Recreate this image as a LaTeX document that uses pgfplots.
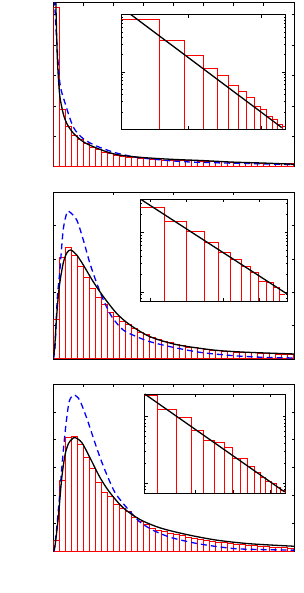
\documentclass[border=0pt]{standalone}
\usepackage{pgfplots}
\pgfplotsset{compat=1.18}
\definecolor{hred}{RGB}{255,0,0}
\pgfplotsset{
 mainax/.style={scale only axis, width=241.4pt, anchor=south west, xmin=0, xmax=8.047, ymin=0,
   axis line style={line width=0.9pt}, tick style={black, line width=0.6pt}, major tick length=3pt,
   xticklabels={}, yticklabels={}, tick label style={text opacity=0, opacity=0}},
 inax/.style={scale only axis, anchor=south west, log origin y=infty,
   axis background/.style={fill=white}, axis line style={line width=0.9pt},
   tick style={black, line width=0.5pt}, major tick length=3pt, minor tick length=1.5pt,
   xticklabels={}, yticklabels={}, tick label style={text opacity=0, opacity=0}},
 histbar/.style={draw=hred, fill=none, line width=1pt, ybar, bar width=0.2, bar shift=0pt},
 steptop/.style={hred, line width=1pt, const plot mark left},
 stepedge/.style={hred, line width=1pt, ycomb},
 fitline/.style={black, line width=1.3pt, smooth, tension=0.5},
 blueline/.style={blue, line width=1.3pt, dash pattern=on 6pt off 4pt, smooth, tension=0.5},
}
\begin{document}
\begin{tikzpicture}[x=1pt,y=1pt]
\useasboundingbox (0,0) rectangle (304,593);
% ---------------- Panel 1 ----------------
\begin{axis}[mainax, at={(53.3pt,426.3pt)}, height=164pt, ymax=5.395, xtick={1,2,3,4,5,6,7}, ytick={1,2,3,4,5}]
\addplot[histbar] coordinates {
(0.1,5.24)(0.3,1.88)(0.5,1.32)(0.7,1.04)(0.9,0.90)(1.1,0.75)(1.3,0.62)(1.5,0.55)(1.7,0.47)(1.9,0.42)
(2.1,0.37)(2.3,0.34)(2.5,0.31)(2.7,0.29)(2.9,0.27)(3.1,0.26)(3.3,0.24)(3.5,0.23)(3.7,0.22)(3.9,0.21)
(4.1,0.21)(4.3,0.20)(4.5,0.20)(4.7,0.19)(4.9,0.18)(5.1,0.18)(5.3,0.17)(5.5,0.16)(5.7,0.16)(5.9,0.15)
(6.1,0.15)(6.3,0.14)(6.5,0.14)(6.7,0.13)(6.9,0.12)(7.1,0.12)(7.3,0.11)(7.5,0.10)(7.7,0.10)(7.9,0.09)};
\addplot[blueline] coordinates {
(0.04,5.5)(0.11,4.2)(0.22,2.75)(0.39,2.1)(0.67,1.3)(1.0,0.92)(1.44,0.68)(2.0,0.48)(2.5,0.36)(3.0,0.28)(4.45,0.16)(6.67,0.10)(8.05,0.07)};
\addplot[fitline] coordinates {
(0.08,5.6)(0.1,4.8)(0.13,3.7)(0.167,2.96)(0.22,2.3)(0.33,1.75)(0.45,1.42)(0.67,1.1)(1.0,0.82)(1.33,0.66)(1.78,0.49)(2.22,0.38)(3.0,0.30)(4.0,0.24)(5.0,0.20)(6.0,0.15)(7.0,0.12)(8.05,0.08)};
\end{axis}
\begin{axis}[xmode=log, ymode=log, inax, at={(121.7pt,464pt)}, width=163.3pt, height=114.3pt, xmin=1.10, xmax=14.68, ymin=1e-4, ymax=1e-2]
\addplot[steptop] coordinates {
(1,8.08e-3)(2,3.51e-3)(3,1.90e-3)(4,1.14e-3)(5,8.48e-4)(6,5.83e-4)(7,4.58e-4)(8,3.60e-4)(9,2.46e-4)(10,2.22e-4)(11,1.65e-4)(12,1.44e-4)(13,1.19e-4)(14,1.10e-4)(15,1.10e-4)};
\addplot[stepedge] coordinates {
(2,8.08e-3)(3,3.51e-3)(4,1.90e-3)(5,1.14e-3)(6,8.48e-4)(7,5.83e-4)(8,4.58e-4)(9,3.60e-4)(10,2.46e-4)(11,2.22e-4)(12,1.65e-4)(13,1.44e-4)(14,1.19e-4)};
\addplot[black, line width=1.3pt] coordinates {(1.256,1.03e-2)(13.93,1.06e-4)};
\end{axis}
% ---------------- Panel 2 ----------------
\begin{axis}[mainax, at={(53.3pt,234pt)}, height=166.7pt, ymax=5.0, xtick={2,4,6}, ytick={1,2,3,4}]
\addplot[histbar] coordinates {
(0.1,1.17)(0.3,3.05)(0.5,3.35)(0.7,3.09)(0.9,2.77)(1.1,2.45)(1.3,2.10)(1.5,1.85)(1.7,1.62)(1.9,1.40)
(2.1,1.27)(2.3,1.12)(2.5,1.02)(2.7,0.90)(2.9,0.80)(3.1,0.72)(3.3,0.64)(3.5,0.58)(3.7,0.53)(3.9,0.48)
(4.1,0.44)(4.3,0.40)(4.5,0.35)(4.7,0.33)(4.9,0.30)(5.1,0.28)(5.3,0.26)(5.5,0.24)(5.7,0.22)(5.9,0.21)
(6.1,0.20)(6.3,0.19)(6.5,0.18)(6.7,0.19)(6.9,0.16)(7.1,0.15)(7.3,0.15)(7.5,0.14)(7.7,0.14)(7.9,0.14)};
\addplot[blueline] coordinates {
(0,0)(0.06,0.4)(0.13,1.77)(0.22,2.67)(0.33,3.87)(0.45,4.38)(0.53,4.42)(0.78,4.17)(1.0,3.57)(1.22,2.87)(1.45,2.27)(1.67,1.77)(1.95,1.27)(2.33,0.87)(2.78,0.67)(3.22,0.52)(3.89,0.37)(4.89,0.20)(6.0,0.10)(7.0,0.05)(8.05,0.03)};
\addplot[fitline] coordinates {
(0,0)(0.05,0.4)(0.11,1.27)(0.2,2.17)(0.33,2.87)(0.45,3.18)(0.58,3.27)(0.78,3.12)(1.0,2.82)(1.33,2.32)(1.67,1.87)(2.11,1.37)(2.56,1.02)(3.22,0.67)(4.06,0.44)(4.89,0.32)(5.56,0.25)(6.5,0.2)(8.05,0.15)};
\end{axis}
\begin{axis}[xmode=log, ymode=log, inax, at={(140.7pt,291.7pt)}, width=147pt, height=102pt, xmin=2.22, xmax=14.41, ymin=7.0e-5, ymax=3.51e-3]
\addplot[steptop] coordinates {
(2,2.61e-3)(3,1.51e-3)(4,1.03e-3)(5,6.81e-4)(6,4.47e-4)(7,3.45e-4)(8,2.71e-4)(9,2.10e-4)(10,1.51e-4)(11,1.43e-4)(12,1.21e-4)(13,9.16e-5)(14,9.16e-5)};
\addplot[stepedge] coordinates {
(3,2.61e-3)(4,1.51e-3)(5,1.03e-3)(6,6.81e-4)(7,4.47e-4)(8,3.45e-4)(9,2.71e-4)(10,2.10e-4)(11,1.51e-4)(12,1.43e-4)(13,1.21e-4)};
\addplot[black, line width=1.3pt] coordinates {(2.22,3.51e-3)(14.22,9.37e-5)};
\end{axis}
% ---------------- Panel 3 ----------------
\begin{axis}[mainax, at={(53.3pt,41.7pt)}, height=167.3pt, ymax=6.0, xtick={1,2,3,4,5,6,7}, ytick={1,2,3,4,5}]
\addplot[histbar] coordinates {
(0.1,0.40)(0.3,2.55)(0.5,4.07)(0.7,4.10)(0.9,3.83)(1.1,3.36)(1.3,2.97)(1.5,2.46)(1.7,2.10)(1.9,1.95)
(2.1,1.68)(2.3,1.53)(2.5,1.41)(2.7,1.22)(2.9,1.08)(3.1,0.96)(3.3,0.83)(3.5,0.75)(3.7,0.70)(3.9,0.63)
(4.1,0.60)(4.3,0.57)(4.5,0.51)(4.7,0.47)(4.9,0.43)(5.1,0.39)(5.3,0.35)(5.5,0.33)(5.7,0.31)(5.9,0.28)
(6.1,0.26)(6.3,0.24)(6.5,0.22)(6.7,0.20)(6.9,0.18)(7.1,0.17)(7.3,0.15)(7.5,0.14)(7.7,0.13)(7.9,0.11)};
\addplot[blueline] coordinates {
(0.03,0)(0.12,0.9)(0.22,2.13)(0.31,3.33)(0.42,4.53)(0.53,5.37)(0.67,5.6)(0.78,5.55)(0.89,5.40)(1.11,4.79)(1.33,4.08)(1.56,3.36)(1.78,2.76)(2.06,2.10)(2.45,1.56)(2.89,1.05)(3.33,0.75)(3.56,0.64)(4.0,0.47)(4.89,0.26)(6.0,0.10)(7.0,0.06)(8.05,0.04)};
\addplot[fitline] coordinates {
(0,0)(0.06,0.22)(0.17,1.25)(0.28,2.61)(0.39,3.45)(0.5,3.85)(0.61,4.01)(0.72,4.08)(0.95,3.90)(1.22,3.36)(1.56,2.64)(1.89,2.10)(2.33,1.56)(2.89,1.14)(3.56,0.84)(4.45,0.60)(5.45,0.40)(6.56,0.27)(8.05,0.18)};
\end{axis}
\begin{axis}[xmode=log, ymode=log, inax, at={(144.7pt,99.7pt)}, width=141pt, height=99.3pt, xmin=3.40, xmax=19.11, ymin=7.0e-5, ymax=2.16e-3]
\addplot[steptop] coordinates {
(3,2.07e-3)(4,1.26e-3)(5,9.43e-4)(6,6.16e-4)(7,4.36e-4)(8,4.07e-4)(9,3.35e-4)(10,2.31e-4)(11,2.29e-4)(12,1.74e-4)(13,1.45e-4)(14,1.22e-4)(15,1.06e-4)(16,9.66e-5)(17,8.63e-5)(18,7.68e-5)(19,7.68e-5)};
\addplot[stepedge] coordinates {
(4,2.07e-3)(5,1.26e-3)(6,9.43e-4)(7,6.16e-4)(8,4.36e-4)(9,4.07e-4)(10,3.35e-4)(11,2.31e-4)(12,2.29e-4)(13,1.74e-4)(14,1.45e-4)(15,1.22e-4)(16,1.06e-4)(17,9.66e-5)(18,8.63e-5)(19,7.68e-5)};
\addplot[black, line width=1.3pt] coordinates {(3.40,2.16e-3)(18.88,7.33e-5)};
\end{axis}
\end{tikzpicture}
\end{document}
